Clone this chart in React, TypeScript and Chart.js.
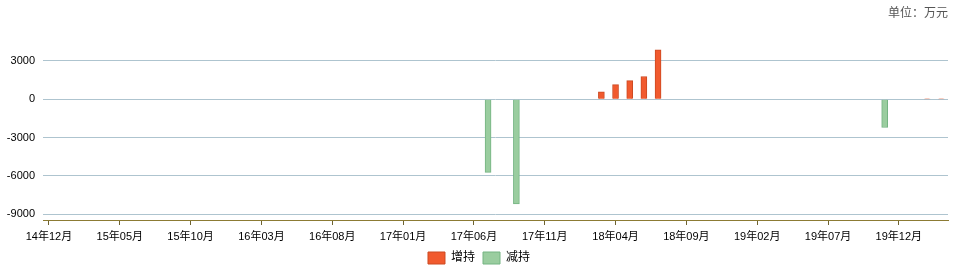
import { useEffect, useRef } from 'react';
import { Chart, registerables } from 'chart.js';

Chart.register(...registerables);

// Month labels shown on the time axis (every five months)
const tickLabels = [
  '14年12月', '15年05月', '15年10月', '16年03月', '16年08月', '17年01月', '17年06月',
  '17年11月', '18年04月', '18年09月', '19年02月', '19年07月', '19年12月',
];

// 增持 (holdings increased), 万元
const increaseMonths = ['18年03月', '18年04月', '18年05月', '18年06月', '18年07月', '20年02月', '20年03月'];
const increaseValues = [570, 1140, 1450, 1770, 3850, 20, 20];

// 减持 (holdings reduced), 万元
const decreaseMonths = ['17年07月', '17年09月', '19年11月'];
const decreaseValues = [-5730, -8200, -2220];

const yTickValues = [-9000, -6000, -3000, 0, 3000];

const unitText = '单位：万元';

const FONT = '"Liberation Sans", "Noto Sans CJK SC", sans-serif';

// Month offset from the first axis label
function monthIndex(label: string): number {
  const m = label.match(/(\d+)年(\d+)月/);
  const b = tickLabels[0].match(/(\d+)年(\d+)月/);
  if (!m || !b) return 0;
  return (Number(m[1]) * 12 + Number(m[2])) - (Number(b[1]) * 12 + Number(b[2]));
}

function labelForIndex(idx: number): string {
  const b = tickLabels[0].match(/(\d+)年(\d+)月/)!;
  const total = Number(b[1]) * 12 + Number(b[2]) - 1 + idx;
  const y = Math.floor(total / 12);
  const mo = (total % 12) + 1;
  return `${y}年${String(mo).padStart(2, '0')}月`;
}

// Nudges the legend block a few pixels to the right of the canvas centre
const legendShift = {
  id: 'legendShift',
  afterLayout(chart: any) {
    const lg = chart.legend;
    if (lg) {
      lg.left += 5;
      lg.right += 5;
    }
  },
};

export default function App() {
  const canvasRef = useRef<HTMLCanvasElement | null>(null);

  useEffect(() => {
    if (!canvasRef.current) return;
    const chart = new Chart(canvasRef.current, {
      type: 'bar',
      data: {
        datasets: [
          {
            label: '增持',
            data: increaseMonths.map((m, i) => ({ x: monthIndex(m), y: increaseValues[i] })),
            backgroundColor: '#F15A2E',
            borderColor: '#CC4A22',
            borderWidth: 1,
            barThickness: 6,
            grouped: false,
          },
          {
            label: '减持',
            data: decreaseMonths.map((m, i) => ({ x: monthIndex(m), y: decreaseValues[i] })),
            backgroundColor: '#9ACD9F',
            borderColor: '#74B482',
            borderWidth: 1,
            barThickness: 6,
            grouped: false,
          },
        ],
      },
      plugins: [legendShift],
      options: {
        animation: false,
        responsive: true,
        maintainAspectRatio: false,
        layout: { padding: { left: 0, right: 11, top: 0, bottom: 4 } },
        plugins: {
          title: {
            display: true,
            text: unitText,
            align: 'end',
            color: '#555',
            font: { family: FONT, size: 12, weight: 'normal' },
            padding: { top: 6, bottom: 18 },
          },
          legend: {
            position: 'bottom',
            labels: {
              boxWidth: 17,
              boxHeight: 12,
              padding: 8,
              color: '#000',
              font: { family: FONT, size: 12 },
            },
          },
          tooltip: { enabled: false },
        },
        scales: {
          x: {
            type: 'linear',
            offset: false,
            min: -0.42,
            max: 63.47,
            afterBuildTicks: (scale: any) => {
              scale.ticks = tickLabels.map((l) => ({ value: monthIndex(l) }));
            },
            afterFit: (scale: any) => {
              scale.height = 24;
            },
            ticks: {
              autoSkip: false,
              maxRotation: 0,
              padding: 5,
              color: '#000',
              font: { family: FONT, size: 11 },
              callback: (v: any) => labelForIndex(Number(v)),
            },
            grid: {
              offset: false,
              drawOnChartArea: false,
              drawTicks: true,
              tickLength: 5,
              color: '#6E6230',
            },
            border: { display: true, color: '#8C7B34', width: 1 },
          },
          y: {
            min: -9450,
            max: 4750,
            afterBuildTicks: (scale: any) => {
              scale.ticks = yTickValues.map((v) => ({ value: v }));
            },
            afterFit: (scale: any) => {
              scale.width = 43;
            },
            ticks: {
              padding: 8,
              color: '#000',
              font: { family: FONT, size: 11 },
              callback: (v: any) => String(v),
            },
            grid: {
              color: '#AEC4CF',
              drawTicks: false,
            },
            border: { display: false },
          },
        },
      },
    });
    return () => chart.destroy();
  }, []);

  return (
    <div style={{ position: 'fixed', left: 0, top: 0, width: 959, height: 278, background: '#fff' }}>
      <canvas ref={canvasRef} />
    </div>
  );
}
